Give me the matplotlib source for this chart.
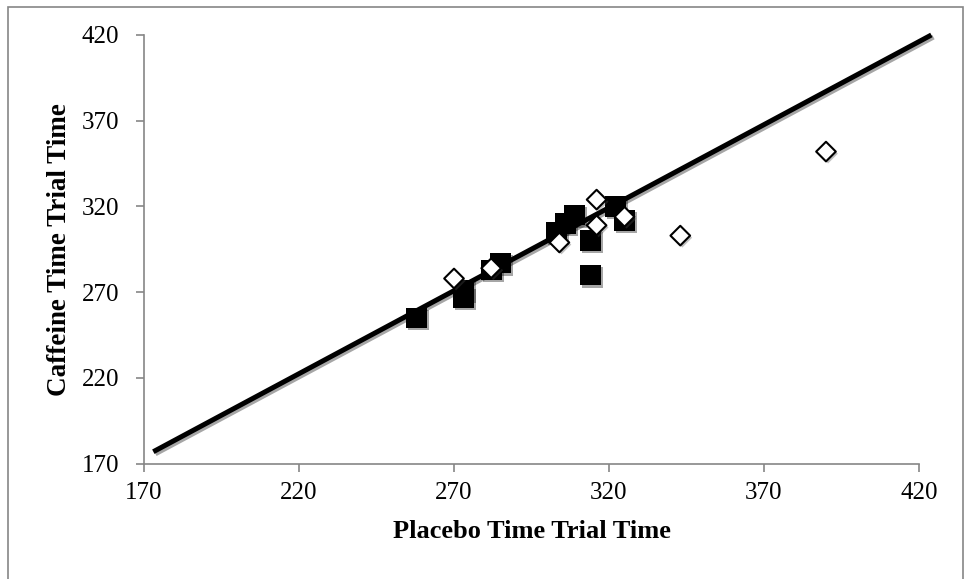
import matplotlib.pyplot as plt
import matplotlib.patheffects as pe
from matplotlib.patches import Rectangle

# caffeine vs placebo data
filled_x = [258, 273, 273, 282, 285, 303, 306, 309, 314, 314, 322, 325]
filled_y = [255, 271, 267, 283, 287, 305, 310, 315, 300, 280, 320, 312]
open_x = [270, 282, 304, 316, 316, 325, 343, 390]
open_y = [278, 284, 299, 324, 309, 314, 303, 352]
line_x = [173, 424]
line_y = [177, 420]
ticks = [170, 220, 270, 320, 370, 420]

plt.rcParams['font.family'] = ['Liberation Serif', 'DejaVu Serif']

fig = plt.figure(figsize=(9.64, 5.79), dpi=100)
ax = fig.add_axes([0.1494, 0.1991, 0.8039, 0.7405])

gray = '#868686'
fig.patches.append(Rectangle((8/964, -0.05), 955/964, 1.05 - 7/579,
                             transform=fig.transFigure, fill=False,
                             edgecolor=gray, linewidth=1.2))

shadow = [pe.SimplePatchShadow(offset=(1.5, -1.5), alpha=0.35), pe.Normal()]
line_shadow = [pe.SimpleLineShadow(offset=(1.5, -1.5), alpha=0.35), pe.Normal()]

ax.plot(line_x, line_y, color='black', lw=3.6, clip_on=False,
        solid_capstyle='butt', path_effects=line_shadow, zorder=2)
ax.scatter(filled_x, filled_y, marker='s', s=225, color='black',
           linewidths=0, zorder=3, path_effects=shadow)
ax.scatter(open_x, open_y, marker='D', s=100, facecolor='white',
           edgecolor='black', linewidths=1.5, zorder=4, path_effects=shadow)

ax.set_xlim(170, 420)
ax.set_ylim(170, 420)
ax.set_xticks(ticks)
ax.set_yticks(ticks)
for side in ['top', 'right']:
    ax.spines[side].set_visible(False)
for side in ['left', 'bottom']:
    ax.spines[side].set_color(gray)
    ax.spines[side].set_linewidth(1.2)
ax.tick_params(axis='both', direction='out', length=6, width=1.2,
               color=gray, labelsize=18)
ax.tick_params(axis='x', pad=7)
ax.tick_params(axis='y', pad=12)

ax.set_xlabel('Placebo Time Trial Time', fontsize=19, fontweight='bold',
              labelpad=12)
ax.set_ylabel('Caffeine Time Trial Time', fontsize=19.5, fontweight='bold',
              labelpad=7)

fig.savefig('out.png', dpi=100)
